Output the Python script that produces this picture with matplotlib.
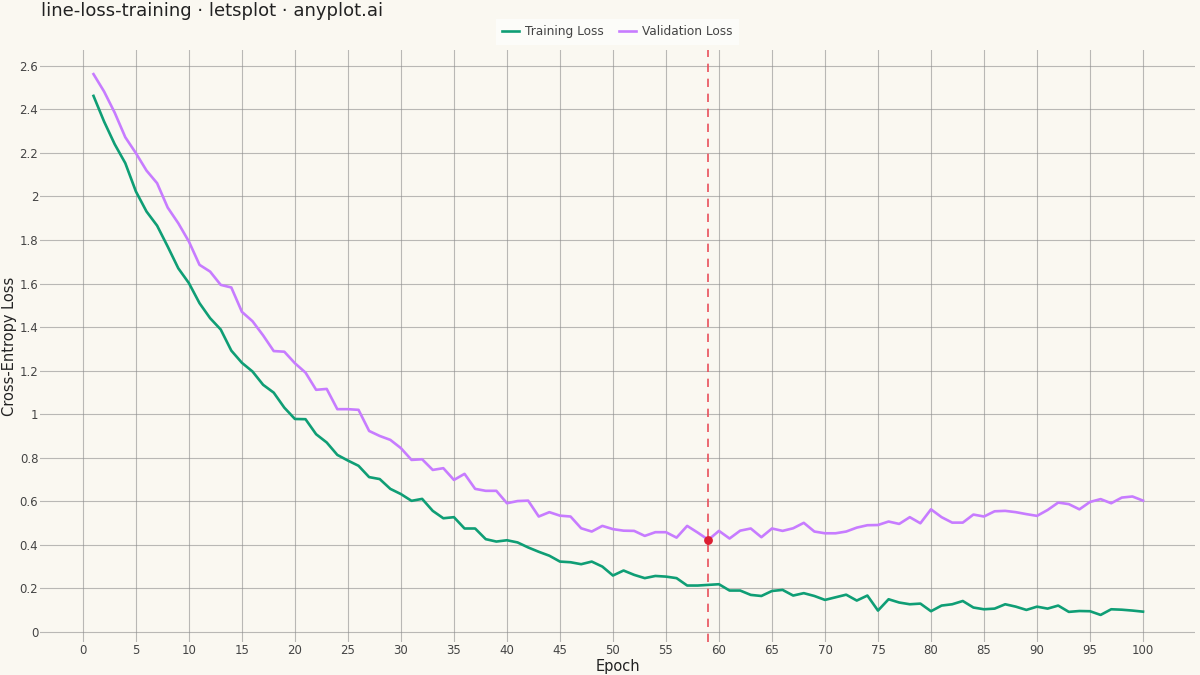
import numpy as np
import matplotlib
matplotlib.use("Agg")
import matplotlib.pyplot as plt

epochs = np.arange(1, 101)

train_loss = [
    2.462, 2.344, 2.240, 2.153, 2.023, 1.931, 1.866, 1.770, 1.670, 1.602,
    1.510, 1.441, 1.389, 1.292, 1.236, 1.196, 1.135, 1.099, 1.030, 0.978,
    0.977, 0.908, 0.870, 0.813, 0.787, 0.763, 0.711, 0.702, 0.657, 0.633,
    0.602, 0.611, 0.556, 0.522, 0.527, 0.475, 0.475, 0.426, 0.415, 0.421,
    0.411, 0.388, 0.368, 0.350, 0.323, 0.320, 0.311, 0.323, 0.300, 0.259,
    0.282, 0.262, 0.247, 0.257, 0.254, 0.247, 0.213, 0.213, 0.216, 0.219,
    0.190, 0.190, 0.170, 0.165, 0.188, 0.193, 0.167, 0.178, 0.165, 0.147,
    0.159, 0.171, 0.144, 0.167, 0.098, 0.150, 0.135, 0.127, 0.130, 0.095,
    0.121, 0.127, 0.142, 0.112, 0.104, 0.107, 0.127, 0.116, 0.101, 0.116,
    0.107, 0.121, 0.092, 0.096, 0.095, 0.078, 0.104, 0.102, 0.098, 0.093,
]

val_loss = [
    2.562, 2.482, 2.385, 2.272, 2.199, 2.119, 2.061, 1.949, 1.877, 1.793,
    1.686, 1.655, 1.594, 1.582, 1.470, 1.427, 1.362, 1.290, 1.287, 1.234,
    1.191, 1.112, 1.116, 1.023, 1.023, 1.020, 0.923, 0.900, 0.882, 0.844,
    0.790, 0.793, 0.744, 0.752, 0.698, 0.726, 0.657, 0.648, 0.648, 0.591,
    0.601, 0.603, 0.530, 0.550, 0.534, 0.530, 0.476, 0.461, 0.487, 0.472,
    0.465, 0.464, 0.441, 0.458, 0.458, 0.433, 0.487, 0.456, 0.423, 0.464,
    0.429, 0.465, 0.475, 0.435, 0.475, 0.464, 0.476, 0.501, 0.461, 0.453,
    0.453, 0.461, 0.479, 0.490, 0.491, 0.507, 0.496, 0.527, 0.499, 0.563,
    0.527, 0.502, 0.502, 0.539, 0.530, 0.554, 0.556, 0.550, 0.541, 0.533,
    0.560, 0.594, 0.587, 0.563, 0.597, 0.610, 0.591, 0.617, 0.622, 0.603,
]

best_epoch = 59
best_val = val_loss[best_epoch - 1]

x_ticks = np.arange(0, 101, 5)
y_ticks = np.round(np.arange(0, 2.61, 0.2), 1)
y_labels = ["0" if v == 0 else f"{v:g}" for v in y_ticks]

bg = "#FAF8F1"
text_col = "#444444"

fig = plt.figure(figsize=(12, 6.75), dpi=100, facecolor=bg)
ax = fig.add_axes([0.0333, 0.049, 0.9625, 0.877], facecolor=bg)

ax.plot(epochs, train_loss, color="#0F9E75", lw=1.9, label="Training Loss", zorder=3)
ax.plot(epochs, val_loss, color="#C77CFF", lw=1.9, label="Validation Loss", zorder=3)
ax.axvline(best_epoch, color="#E8505B", lw=1.2, ls=(0, (5, 4)), zorder=4)
ax.scatter([best_epoch], [best_val], s=28, color="#DC1E32", zorder=5)

ax.set_xlim(-4.05, 104.9)
ax.set_ylim(-0.046, 2.673)
ax.set_xticks(x_ticks)
ax.set_yticks(y_ticks)
ax.set_yticklabels(y_labels)
ax.tick_params(length=0, labelsize=8.5, colors=text_col, pad=1.2)
ax.grid(True, color="#8E8E8E", lw=0.8, alpha=0.6)
ax.set_axisbelow(True)
for s in ax.spines.values():
    s.set_visible(False)

ax.set_xlabel("Epoch", fontsize=10.5, color="#222222", labelpad=2)
ax.set_ylabel("Cross-Entropy Loss", fontsize=10.5, color="#222222", labelpad=1.5)

fig.text(0.034, 0.984, "line-loss-training · letsplot · anyplot.ai",
         fontsize=13, color="#222222", va="center", ha="left")

leg = fig.legend(loc="center", bbox_to_anchor=(0.5146, 0.9526), ncol=2,
                 frameon=True, fontsize=8.7, handlelength=1.4, handletextpad=0.5,
                 columnspacing=1.3, borderpad=0.5)
leg.get_frame().set_facecolor("#FFFFFF")
leg.get_frame().set_alpha(0.6)
leg.get_frame().set_edgecolor("none")
leg.get_frame().set_boxstyle("square", pad=0)
for t in leg.get_texts():
    t.set_color(text_col)

fig.savefig("out.png", dpi=100, facecolor=bg)
